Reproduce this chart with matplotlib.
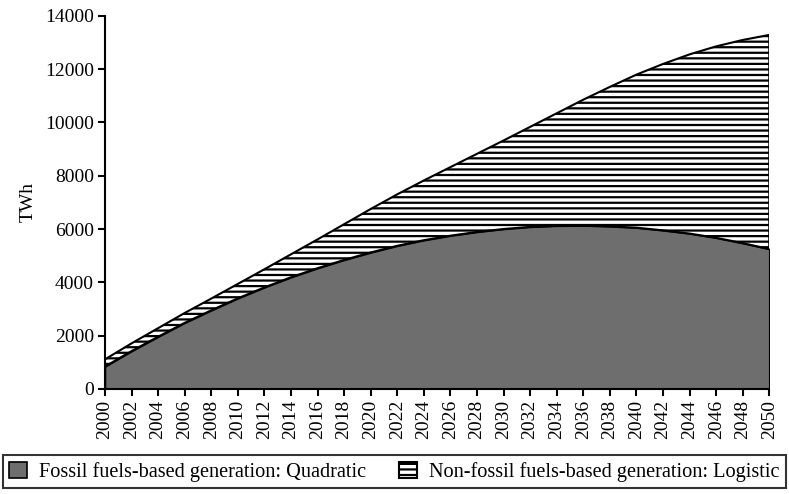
import numpy as np
import matplotlib.pyplot as plt

plt.rcParams['font.family'] = ['Liberation Serif', 'DejaVu Serif']
plt.rcParams['hatch.linewidth'] = 1.6

# years every 2 years (TWh)
years = np.arange(2000, 2051, 2)
fossil = [840, 1420, 1960, 2480, 2950, 3400, 3810, 4190, 4530, 4840,
          5120, 5370, 5580, 5750, 5890, 6000, 6080, 6120, 6130, 6100,
          6050, 5950, 5830, 5670, 5470, 5250]
non_fossil = [270, 290, 320, 370, 440, 540, 680, 860, 1080, 1340,
              1630, 1930, 2240, 2570, 2930, 3320, 3750, 4220, 4720, 5230,
              5740, 6240, 6720, 7180, 7620, 8030]
labels = ['Fossil fuels-based generation: Quadratic',
          'Non-fossil fuels-based generation: Logistic']

fossil = np.array(fossil)
total = fossil + np.array(non_fossil)

fig = plt.figure(figsize=(7.89, 4.94), dpi=100)
ax = fig.add_axes([0.133, 0.2126, 0.842, 0.7556])

p1 = ax.fill_between(years, 0, fossil, facecolor='#6e6e6e', edgecolor='black',
                     linewidth=1.2, label=labels[0])
p2 = ax.fill_between(years, fossil, total, facecolor='white', edgecolor='black',
                     hatch='---', linewidth=1.5, label=labels[1])

ax.set_xlim(2000, 2050)
ax.set_ylim(0, 14000)
ax.set_xticks(years)
ax.set_xticklabels([str(y) for y in years], rotation=90)
ax.set_yticks(np.arange(0, 14001, 2000))
ax.tick_params(direction='out', length=5, width=1.5, labelsize=14, pad=3)
for s in ['top', 'right']:
    ax.spines[s].set_visible(False)
for s in ['left', 'bottom']:
    ax.spines[s].set_linewidth(1.5)
ax.set_ylabel('TWh', fontsize=14, labelpad=6)

leg = fig.legend(handles=[p1, p2], labels=labels, loc='lower center',
                 bbox_to_anchor=(0.5, 0.008), ncol=2, fontsize=14.6,
                 frameon=True, fancybox=False, edgecolor='black',
                 handlelength=0.9, handleheight=0.9, handletextpad=0.6,
                 columnspacing=1.6, borderpad=0.3, borderaxespad=0.1)
leg.get_frame().set_linewidth(1.5)

plt.savefig('out.png', dpi=100)
